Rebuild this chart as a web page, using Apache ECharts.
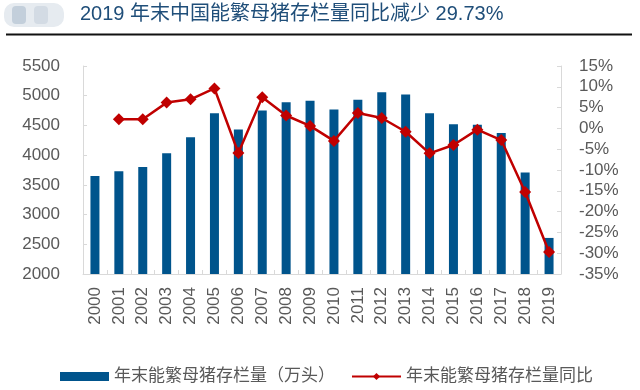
<!DOCTYPE html>
<html><head><meta charset="utf-8">
<script src="https://cdn.jsdelivr.net/npm/echarts@6/dist/echarts.min.js"></script>
<style>html,body{margin:0;padding:0;background:#fff;}#c{width:640px;height:390px;}</style>
</head><body><div id="c"></div>
<script>
var years = ['2000','2001','2002','2003','2004','2005','2006','2007','2008','2009','2010','2011','2012','2013','2014','2015','2016','2017','2018','2019'];
var stock = [3650,3730,3800,4030,4300,4705,4430,4750,4890,4915,4766,4934,5060,5020,4705,4520,4510,4372,3710,2607];
var yoy = [null,2.2,2.2,6.2,7.0,9.6,-5.9,7.5,3.1,0.6,-3.0,3.7,2.5,-0.8,-6.0,-4.0,-0.3,-2.8,-15.3,-29.73];
var leftTicks = [2000,5500,500];
var rightTicks = [-35,15,5];
var FONT = "'Liberation Sans','Noto Sans CJK SC',sans-serif";
var chart = echarts.init(document.getElementById('c'));
chart.setOption({
  animation:false,
  textStyle:{fontFamily:FONT},
  graphic:[
    {type:'rect',shape:{x:4,y:3,width:60,height:24,r:10},style:{fill:'#e6ebf0'}},
    {type:'rect',shape:{x:12,y:6,width:14,height:18,r:4},style:{fill:'#c3cfdb'}},
    {type:'rect',shape:{x:34,y:6,width:14,height:18,r:4},style:{fill:'#d3dbe4'}},
    {type:'text',left:80,top:4,style:{text:'2019 年末中国能繁母猪存栏量同比减少 29.73%',fill:'#1f4e79',font:"20px "+FONT}},
    {type:'line',shape:{x1:6,y1:34.5,x2:632,y2:34.5},style:{stroke:'#111',lineWidth:2}}
  ],
  grid:{left:83,right:79,top:66,bottom:116},
  legend:{top:363,left:55,itemGap:16,itemWidth:49,itemHeight:9,
    textStyle:{color:'#595959',fontSize:17,fontFamily:FONT},
    data:[{name:'年末能繁母猪存栏量（万头）',icon:'rect'},{name:'年末能繁母猪存栏量同比'}]},
  xAxis:{type:'category',data:years,
    axisLine:{onZero:false,lineStyle:{color:'#d9d9d9'}},
    axisTick:{show:true,inside:true,length:4,lineStyle:{color:'#d9d9d9'}},
    axisLabel:{rotate:90,color:'#595959',fontSize:17,margin:13,fontFamily:FONT}},
  yAxis:[
    {type:'value',min:leftTicks[0],max:leftTicks[1],interval:leftTicks[2],
     axisLine:{show:true,lineStyle:{color:'#d9d9d9'}},
     axisTick:{show:true,inside:true,length:4,lineStyle:{color:'#d9d9d9'}},
     splitLine:{show:false},
     axisLabel:{color:'#595959',fontSize:17,margin:23,fontFamily:FONT,formatter:function(v){return String(v);}}},
    {type:'value',min:rightTicks[0],max:rightTicks[1],interval:rightTicks[2],position:'right',
     axisLine:{show:true,lineStyle:{color:'#d9d9d9'}},
     axisTick:{show:true,inside:true,length:4,lineStyle:{color:'#d9d9d9'}},
     splitLine:{show:false},
     axisLabel:{color:'#595959',fontSize:17,margin:18,fontFamily:FONT,formatter:'{value}%'}}
  ],
  series:[
    {name:'年末能繁母猪存栏量（万头）',type:'bar',data:stock,barWidth:9,itemStyle:{color:'#00548c'}},
    {name:'年末能繁母猪存栏量同比',type:'line',yAxisIndex:1,data:yoy,symbol:'diamond',symbolSize:12,
     lineStyle:{color:'#c00000',width:2.5},itemStyle:{color:'#c00000'}}
  ]
});
</script></body></html>
